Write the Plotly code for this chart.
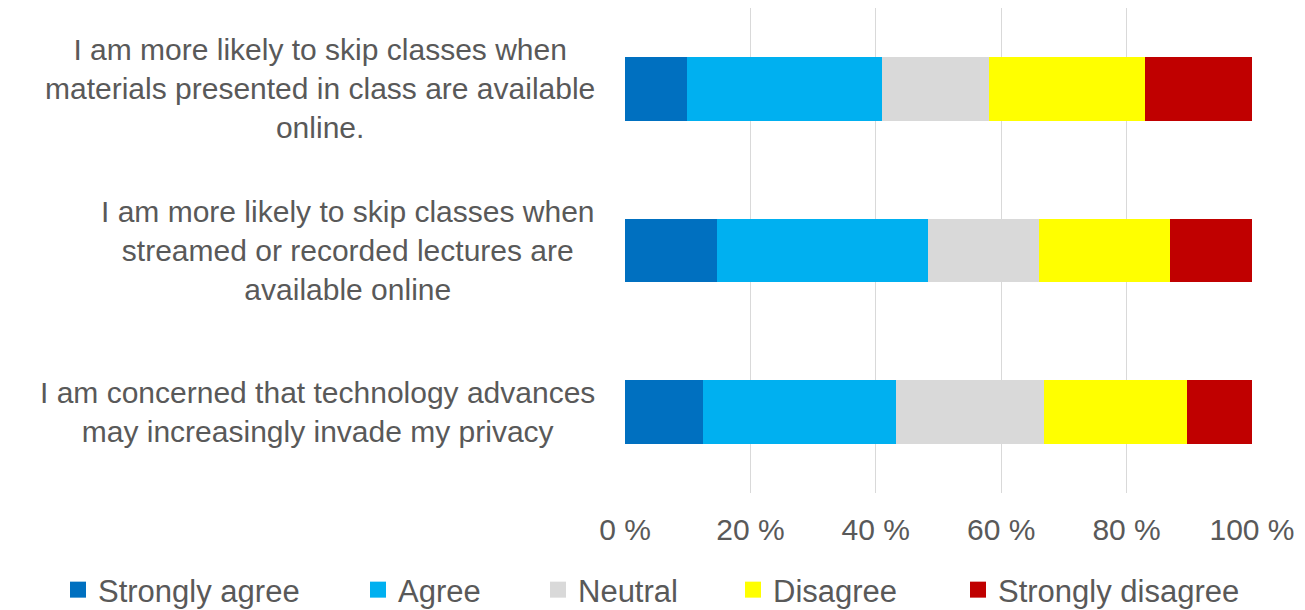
import plotly.graph_objects as go

categories = [
    "I am more likely to skip classes when<br>materials presented in class are available<br>online.",
    "I am more likely to skip classes when<br>streamed or recorded lectures are<br>available online",
    "I am concerned that technology advances<br>may increasingly invade my privacy",
]
series_names = ["Strongly agree", "Agree", "Neutral", "Disagree", "Strongly disagree"]
strongly_agree = [9.9, 14.6, 12.4]
agree = [31.1, 33.7, 30.8]
neutral = [17.0, 17.7, 23.6]
disagree = [24.9, 20.9, 22.9]
strongly_disagree = [17.1, 13.1, 10.3]
tick_vals = [0, 20, 40, 60, 80, 100]
tick_text = ["0 %", "20 %", "40 %", "60 %", "80 %", "100 %"]
colors = ["#0070C0", "#00B0F0", "#D9D9D9", "#FFFF00", "#C00000"]

series_values = [strongly_agree, agree, neutral, disagree, strongly_disagree]
legend_ids = ["legend", "legend2", "legend3", "legend4", "legend5"]
legend_px = [72, 372, 552, 747, 972]

OFF = 8  # page body margin
W, H = 1305 - OFF, 610 - OFF
ml, mr = 625 - OFF, 53
mt = 0
mb = H - (493 - OFF)
pw = W - ml - mr
ph = H - mt - mb

FONT = "Liberation Sans, Arial, sans-serif"
GRAY = "#595959"
FS = 30

fig = go.Figure()
ids = list(range(len(categories)))
for name, vals, col in zip(series_names, series_values, colors):
    fig.add_trace(go.Bar(
        x=vals, y=ids, name=name, orientation="h",
        marker=dict(color=col, line=dict(width=0)),
        showlegend=False,
    ))
# legend-only entries with larger square swatches
for name, col, lid in zip(series_names, colors, legend_ids):
    fig.add_trace(go.Scatter(
        x=[None], y=[None], name=name, mode="markers",
        marker=dict(symbol="square", size=17, color=col, line=dict(width=0)),
        legend=lid, showlegend=True, hoverinfo="skip",
    ))

layout_legends = {}
for lid, px in zip(legend_ids, legend_px):
    layout_legends[lid] = dict(
        x=(px - 14 - ml - OFF) / pw, xanchor="left",
        y=(mt + ph - (590 - OFF)) / ph, yanchor="middle",
        orientation="h",
        font=dict(family=FONT, size=31, color=GRAY),
        bgcolor="rgba(0,0,0,0)",
        itemclick=False, itemdoubleclick=False,
    )

annotations = []
for i, cat in enumerate(categories):
    annotations.append(dict(
        x=(597 - OFF - ml) / pw, xref="paper", xanchor="right",
        y=i, yref="y", yanchor="middle",
        text=cat, align="center", showarrow=False,
        font=dict(family=FONT, size=FS, color=GRAY),
    ))

fig.update_layout(
    width=W, height=H,
    margin=dict(l=ml, r=mr, t=mt, b=mb, autoexpand=False),
    barmode="stack", bargap=0.605,
    plot_bgcolor="white", paper_bgcolor="white",
    showlegend=True,
    annotations=annotations,
    xaxis=dict(
        range=[0, 100], tickvals=tick_vals, ticktext=tick_text,
        showgrid=True, gridcolor="#D9D9D9", gridwidth=1.3,
        zeroline=False, showline=False, ticks="",
        tickfont=dict(family=FONT, size=FS, color=GRAY),
        ticklabelstandoff=16,
    ),
    yaxis=dict(
        range=[len(categories) - 0.5, -0.5],
        showticklabels=False, showgrid=False, zeroline=False, showline=False,
    ),
    **layout_legends,
)

fig.write_html("out.html")
